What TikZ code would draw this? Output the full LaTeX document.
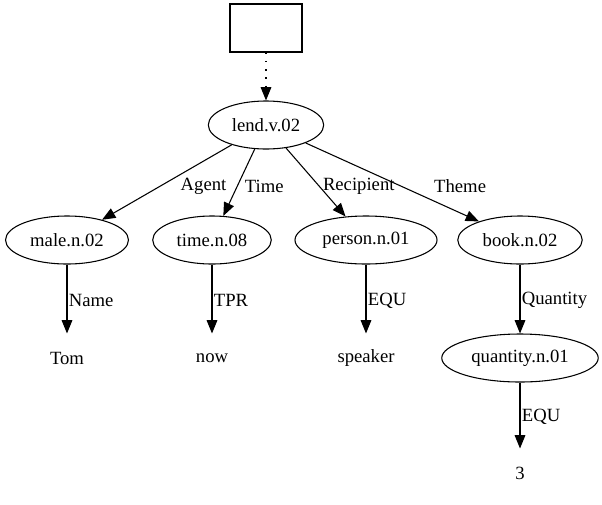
\documentclass[tikz,border=0pt]{standalone}
\usepackage{fontspec}
\setmainfont{Liberation Serif}
\usetikzlibrary{shapes.geometric, arrows.meta}

\begin{document}
\begin{tikzpicture}[x=0.75pt, y=-0.75pt, line width=0.8pt, font=\fontsize{14}{16}\selectfont,
    sense/.style={draw, ellipse, minimum height=36pt, inner xsep=5pt, inner ysep=0pt},
    word/.style={minimum width=54pt, minimum height=36pt, inner sep=0pt},
    rel/.style={-{Triangle[length=10pt, width=8pt]}},
    lbl/.style={midway, anchor=west, inner sep=1pt}]
    \useasboundingbox (0,0) rectangle (602,504);

    \node[draw, minimum width=54pt, minimum height=36pt] (top) at (266,28) {};
    \node[sense] (lend) at (266,125) {lend.v.02};
    \node[sense] (male) at (67,240) {male.n.02};
    \node[sense] (time) at (212,240) {time.n.08};
    \node[sense] (person) at (366,240) {person.n.01};
    \node[sense] (book) at (520,240) {book.n.02};
    \node[word] (tom) at (67,358) {Tom};
    \node[word] (now) at (212,358) {now};
    \node[word] (speaker) at (366,358) {speaker};
    \node[sense] (quantity) at (520,358) {quantity.n.01};
    \node[word] (three) at (520,473) {3};

    \draw[rel, dash pattern=on 1.2pt off 5pt] (top) -- (lend);
    \draw[rel] (lend) -- (male) node[lbl, xshift=9pt, yshift=-3pt] {Agent};
    \draw[rel] (lend) -- (time) node[lbl, xshift=3pt, yshift=-3pt] {Time};
    \draw[rel] (lend) -- (person) node[lbl, xshift=4pt, yshift=-3pt] {Recipient};
    \draw[rel] (lend) -- (book) node[lbl, xshift=30pt, yshift=-3pt] {Theme};
    \draw[rel] (male) -- (tom) node[lbl, yshift=-1pt] {Name};
    \draw[rel] (time) -- (now) node[lbl, yshift=-1pt] {TPR};
    \draw[rel] (person) -- (speaker) node[lbl, yshift=-1pt] {EQU};
    \draw[rel] (book) -- (quantity) node[lbl, yshift=-1pt] {Quantity};
    \draw[rel] (quantity) -- (three) node[lbl, yshift=-1pt] {EQU};

\end{tikzpicture}
\end{document}
